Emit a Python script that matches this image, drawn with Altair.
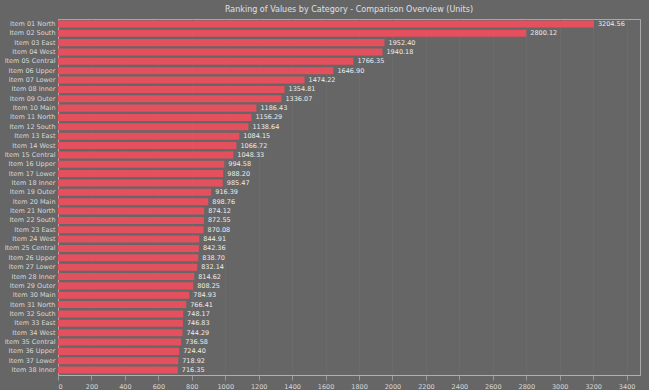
import altair as alt
import pandas as pd

categories = [
    "Item 01 North", "Item 02 South", "Item 03 East", "Item 04 West", "Item 05 Central",
    "Item 06 Upper", "Item 07 Lower", "Item 08 Inner", "Item 09 Outer", "Item 10 Main",
    "Item 11 North", "Item 12 South", "Item 13 East", "Item 14 West", "Item 15 Central",
    "Item 16 Upper", "Item 17 Lower", "Item 18 Inner", "Item 19 Outer", "Item 20 Main",
    "Item 21 North", "Item 22 South", "Item 23 East", "Item 24 West", "Item 25 Central",
    "Item 26 Upper", "Item 27 Lower", "Item 28 Inner", "Item 29 Outer", "Item 30 Main",
    "Item 31 North", "Item 32 South", "Item 33 East", "Item 34 West", "Item 35 Central",
    "Item 36 Upper", "Item 37 Lower", "Item 38 Inner",
]
values = [
    3204.56, 2800.12, 1952.40, 1940.18, 1766.35, 1646.90, 1474.22, 1354.81, 1336.07, 1186.43,
    1156.29, 1138.64, 1084.15, 1066.72, 1048.33, 994.58, 988.20, 985.47, 916.39, 898.76,
    874.12, 872.55, 870.08, 844.91, 842.36, 838.70, 832.14, 814.62, 808.25, 784.93,
    766.41, 748.17, 746.83, 744.29, 736.58, 724.40, 718.92, 716.35,
]
tick_values = list(range(0, 3401, 200))
title_text = "Ranking of Values by Category - Comparison Overview (Units)"

df = pd.DataFrame({"category": categories, "value": values})
df["label"] = df["value"].map(lambda v: f"{v:.2f}")

x_axis = alt.Axis(
    values=tick_values, title=None, labelFontSize=6.5, format="d",
    labelOverlap=False, labelColor="#d8d8d8", tickColor="#9a9a9a",
    domainColor="#b0b0b0", gridColor="#6f6f6f", gridWidth=0.6, labelPadding=3,
)
x_scale = alt.Scale(domain=[0, 3480], nice=False)
y_axis = alt.Axis(labelFontSize=6.5, labelColor="#d8d8d8", ticks=False,
                  domainColor="#b0b0b0", labelPadding=3, labelLimit=52)
y_scale = alt.Scale(paddingInner=0.25, paddingOuter=0.15)

bars = alt.Chart(df).mark_bar(color="#e4505e").encode(
    x=alt.X("value:Q", scale=x_scale, axis=x_axis),
    y=alt.Y("category:N", sort=None, title=None, scale=y_scale, axis=y_axis),
)
texts = alt.Chart(df).mark_text(
    align="left", baseline="middle", dx=4, fontSize=6.5, color="#ececec"
).encode(
    x=alt.X("value:Q", scale=x_scale, axis=x_axis),
    y=alt.Y("category:N", sort=None, title=None, scale=y_scale, axis=y_axis),
    text="label:N",
)

chart = (
    alt.layer(bars, texts)
    .properties(
        width=582, height=356,
        padding={"left": 58, "top": 19, "right": 9, "bottom": 15},
        autosize=alt.AutoSizeParams(type="none"),
        title=alt.TitleParams(title_text, fontSize=8, color="#e0e0e0",
                              fontWeight="normal", offset=5, anchor="middle"),
    )
    .configure(background="#666666", font="DejaVu Sans")
    .configure_view(stroke="#a8a8a8", strokeWidth=1, fill="#666666")
)
chart.save("out.html", embed_options={"renderer": "svg", "actions": False})
